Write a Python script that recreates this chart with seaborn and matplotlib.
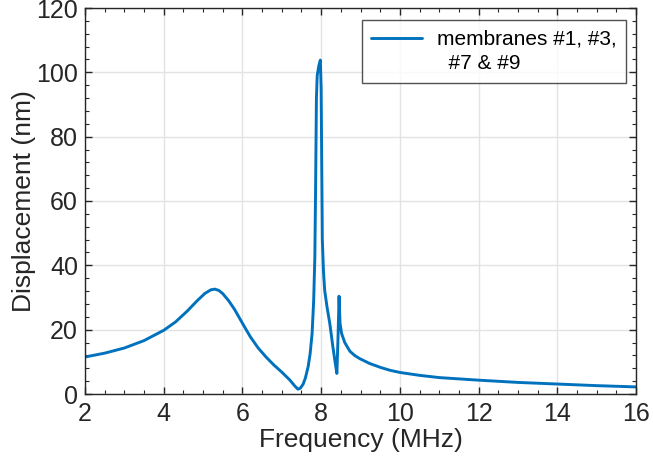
import numpy as np
import pandas as pd
import matplotlib
matplotlib.use("Agg")
import matplotlib.pyplot as plt
from matplotlib.ticker import MultipleLocator
from matplotlib.legend_handler import HandlerLine2D
import seaborn as sns

freq = [2.0, 2.5, 3.0, 3.5, 4.0, 4.3, 4.6, 4.85, 5.05, 5.2, 5.3, 5.4, 5.5, 5.65, 5.8,
        6.0, 6.2, 6.4, 6.6, 6.8, 7.0, 7.2, 7.33, 7.41, 7.47, 7.54, 7.6, 7.67, 7.72, 7.77,
        7.81, 7.84, 7.86, 7.88, 7.9, 7.94, 7.98, 8.0, 8.01, 8.03, 8.06, 8.09, 8.15, 8.22,
        8.3, 8.36, 8.4, 8.43, 8.455, 8.48, 8.52, 8.6, 8.73, 8.85, 8.98, 9.23, 9.5, 9.74,
        10.0, 10.5, 11.0, 12.0, 13.0, 14.0, 15.0, 16.0]
disp = [11.5, 12.7, 14.3, 16.6, 19.8, 22.4, 25.8, 29.0, 31.3, 32.4, 32.6, 32.2, 31.2, 29.0, 26.3,
        22.0, 17.8, 14.3, 11.5, 9.0, 6.8, 4.4, 2.5, 1.5, 1.8, 3.0, 5.0, 8.5, 12.5, 18.8,
        29.0, 42.6, 65.0, 92.0, 99.0, 102.0, 103.8, 95.0, 79.0, 48.0, 38.0, 32.2, 27.0, 21.9,
        14.5, 9.5, 6.4, 18.0, 30.4, 22.0, 18.8, 16.0, 13.3, 12.0, 11.0, 9.5, 8.3, 7.4,
        6.7, 5.8, 5.1, 4.3, 3.6, 3.1, 2.6, 2.2]

series_label = "membranes #1, #3,\n  #7 & #9"

df = pd.DataFrame({"Frequency": freq, "Displacement": disp, "series": series_label})

sns.set_theme(style="whitegrid")
plt.rcParams["font.family"] = ["Liberation Sans", "DejaVu Sans"]
dark = "#262626"

fig = plt.figure(figsize=(6.53, 4.70), dpi=100)
ax_l, ax_b, ax_w, ax_h = 85 / 653, (470 - 394) / 470, 551 / 653, 386 / 470
ax = fig.add_axes([ax_l, ax_b, ax_w, ax_h])

sns.lineplot(data=df, x="Frequency", y="Displacement", hue="series",
             palette=["#0072BD"], linewidth=2.1, ax=ax, sort=False)

ax.set_xlim(2, 16)
ax.set_ylim(0, 120)
ax.xaxis.set_major_locator(MultipleLocator(2))
ax.xaxis.set_minor_locator(MultipleLocator(0.5))
ax.yaxis.set_major_locator(MultipleLocator(20))
ax.yaxis.set_minor_locator(MultipleLocator(4))

ax.set_facecolor("white")
ax.grid(True, which="major", color="#e3e3e3", linewidth=1.0)
ax.grid(False, which="minor")
for s in ax.spines.values():
    s.set_visible(True)
    s.set_color(dark)
    s.set_linewidth(1.0)

ax.tick_params(which="both", direction="in", top=True, right=True, bottom=True, left=True,
               colors=dark, labelcolor=dark)
ax.tick_params(which="major", length=5, width=1.0, labelsize=18)
ax.tick_params(axis="y", which="major", pad=5)
ax.tick_params(axis="x", which="major", pad=6)
ax.tick_params(which="minor", length=3, width=0.8)

ax.set_xlabel("Frequency (MHz)", fontsize=19, color=dark, labelpad=1)
ax.set_ylabel("Displacement (nm)", fontsize=19, color=dark, labelpad=0)

LEG_FS = 15
LINESP = 1.4


class TopLineHandler(HandlerLine2D):
    def create_artists(self, legend, orig_handle, xdescent, ydescent, width, height,
                       fontsize, trans):
        arts = super().create_artists(legend, orig_handle, xdescent, ydescent, width, height,
                                      fontsize, trans)
        for a in arts:
            a.set_ydata(np.asarray(a.get_ydata()) + 0.5 * LEG_FS * LINESP * 0.93)
        return arts


handles, labels = ax.get_legend_handles_labels()
leg = ax.legend(handles, labels, loc="upper right", fontsize=LEG_FS, frameon=True,
                fancybox=False, edgecolor=dark, handlelength=2.45, borderaxespad=0,
                borderpad=0.45, handletextpad=0.7,
                bbox_to_anchor=(1 - 10 / 551, 1 - 12 / 386),
                handler_map={type(handles[0]): TopLineHandler()})
leg.get_frame().set_linewidth(1.0)
for t in leg.get_texts():
    t.set_color("black")
    t.set_linespacing(LINESP)
for h in leg.get_lines():
    h.set_linewidth(2.1)

fig.savefig("out.png", dpi=100)
